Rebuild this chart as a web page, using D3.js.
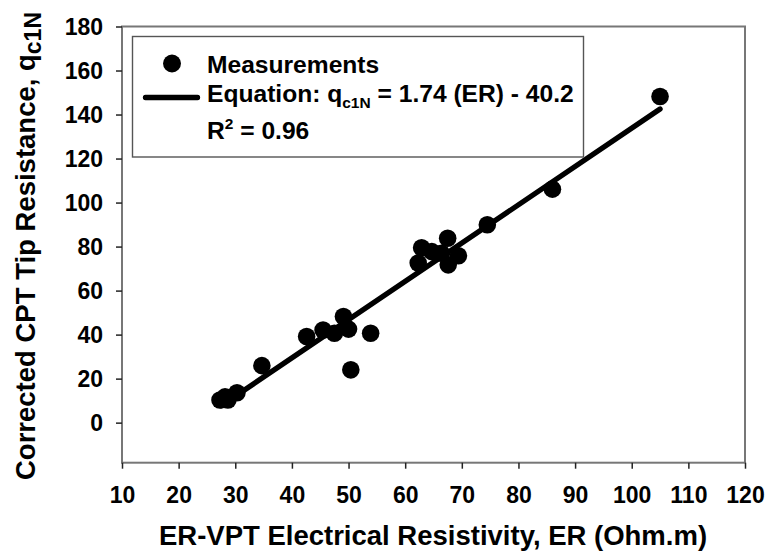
<!DOCTYPE html>
<html>
<head>
<meta charset="utf-8">
<script src="https://cdn.jsdelivr.net/npm/d3@7"></script>
<style>
  body { margin: 0; background: #fff; }
  svg text { font-family: "Liberation Sans", Arial, sans-serif; font-weight: bold; fill: #000; }
</style>
</head>
<body>
<div id="chart"></div>
<script>
const erValues = [27.3, 28.2, 28.7, 30.3, 34.7, 42.6, 45.5, 47.5, 49.1, 50.0, 50.4, 53.9,
                  62.3, 62.9, 64.7, 66.4, 67.5, 67.6, 69.4, 74.5, 86.0, 105.0];
const qValues  = [10.3, 11.7, 10.3, 13.6, 25.9, 39.1, 42.1, 40.6, 48.2, 42.5, 24.0, 40.6,
                  72.5, 79.5, 77.7, 77.0, 83.8, 71.7, 75.8, 89.9, 106.1, 148.2];

// fitted line: q = 1.74 ER - 40.2
const fitSlope = 1.74;
const fitIntercept = -40.2;
const fitRange = [27.5, 105];

const xTicks = [10, 20, 30, 40, 50, 60, 70, 80, 90, 100, 110, 120];
const yTicks = [0, 20, 40, 60, 80, 100, 120, 140, 160, 180];

const width = 771, height = 558;
const margin = { left: 122, right: 26, top: 26.5, bottom: 95.3 };

const svg = d3.select("#chart").append("svg")
    .attr("width", width)
    .attr("height", height);

const x = d3.scaleLinear().domain([10, 120]).range([margin.left, width - margin.right]);
const y = d3.scaleLinear().domain([-18.2, 180]).range([height - margin.bottom, margin.top]);

// frame round the plot
svg.append("rect")
    .attr("x", x(10)).attr("y", y(180))
    .attr("width", x(120) - x(10)).attr("height", y(-18.2) - y(180))
    .attr("fill", "none").attr("stroke", "#777").attr("stroke-width", 2);

const xAxis = svg.append("g")
    .attr("transform", `translate(0,${y(-18.2)})`)
    .call(d3.axisBottom(x).tickValues(xTicks).tickSize(6));
xAxis.select(".domain").remove();
xAxis.selectAll(".tick line").attr("stroke", "#222").attr("stroke-width", 1.5);
xAxis.selectAll(".tick text").style("font-size", "23px").attr("y", 40).attr("dy", 0);

const yAxis = svg.append("g")
    .attr("transform", `translate(${x(10)},0)`)
    .call(d3.axisLeft(y).tickValues(yTicks).tickSize(6).tickPadding(13));
yAxis.select(".domain").remove();
yAxis.selectAll(".tick line").attr("stroke", "#222").attr("stroke-width", 1.5);
yAxis.selectAll(".tick text").style("font-size", "23px").attr("dy", "0.35em");

// fit line
svg.append("line")
    .attr("x1", x(fitRange[0])).attr("y1", y(fitSlope * fitRange[0] + fitIntercept))
    .attr("x2", x(fitRange[1])).attr("y2", y(fitSlope * fitRange[1] + fitIntercept))
    .attr("stroke", "#000").attr("stroke-width", 5.3).attr("stroke-linecap", "round");

// points
const pts = erValues.map((v, i) => ({ er: v, q: qValues[i] }));
svg.append("g").selectAll("circle")
    .data(pts)
    .join("circle")
    .attr("cx", d => x(d.er))
    .attr("cy", d => y(d.q))
    .attr("r", 8.8)
    .attr("fill", "#000");

// legend
const lg = svg.append("g");
lg.append("rect")
    .attr("x", 132.5).attr("y", 36.5).attr("width", 451).attr("height", 120.5)
    .attr("fill", "#fff").attr("stroke", "#555").attr("stroke-width", 1.4);
lg.append("circle").attr("cx", 172).attr("cy", 63.5).attr("r", 9).attr("fill", "#000");
lg.append("text").attr("x", 207).attr("y", 72.7).style("font-size", "24.6px").text("Measurements");
lg.append("line")
    .attr("x1", 145.5).attr("x2", 197.5).attr("y1", 97.5).attr("y2", 97.5)
    .attr("stroke", "#000").attr("stroke-width", 5.3).attr("stroke-linecap", "round");
const eq = lg.append("text").attr("x", 207).attr("y", 102).style("font-size", "24.6px");
eq.append("tspan").text("Equation: q");
eq.append("tspan").attr("dy", 6).style("font-size", "15.5px").text("c1N");
eq.append("tspan").attr("dy", -6).text(" = 1.74 (ER) - 40.2");
const r2 = lg.append("text").attr("x", 207).attr("y", 138.5).style("font-size", "24.6px");
r2.append("tspan").text("R");
r2.append("tspan").attr("dy", -10).style("font-size", "15.5px").text("2");
r2.append("tspan").attr("dy", 10).text(" = 0.96");

// axis titles
svg.append("text")
    .attr("x", 433).attr("y", 545)
    .attr("text-anchor", "middle")
    .style("font-size", "27.5px")
    .text("ER-VPT Electrical Resistivity, ER (Ohm.m)");

const yt = svg.append("text")
    .attr("transform", "translate(35,246) rotate(-90)")
    .attr("text-anchor", "middle")
    .style("font-size", "27.5px");
yt.append("tspan").text("Corrected CPT Tip Resistance, q");
yt.append("tspan").attr("dy", 6).style("font-size", "23px").text("c1N");
</script>
</body>
</html>
